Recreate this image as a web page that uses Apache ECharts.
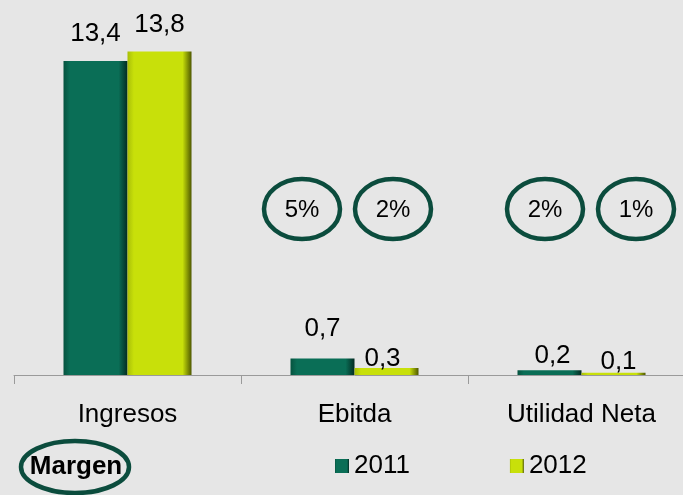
<!DOCTYPE html>
<html style="height: 100%">
<head>
    <meta charset="utf-8">
</head>
<body style="height: 100%; margin: 0; background: #e6e6e6; overflow: hidden">
    <!-- the plot runs past the right edge in the original, so the canvas is a bit wider than the window -->
    <div id="container" style="width: 695px; height: 495px"></div>
    <script src="https://cdn.jsdelivr.net/npm/echarts@6/dist/echarts.min.js"></script>
    <script type="text/javascript">
        var categories = ['Ingresos', 'Ebitda', 'Utilidad Neta'];
        var years = ['2011', '2012'];
        var values2011 = [13.4, 0.7, 0.2];
        var values2012 = [13.8, 0.3, 0.1];
        // margen (%) per year, only for Ebitda and Utilidad Neta
        var margin2011 = ['', '5%', '2%'];
        var margin2012 = ['', '2%', '1%'];
        // small nudges so the labels sit like in the original
        var labelNudge2011 = [[0, 0], [0, -3], [3, 13]];
        var labelNudge2012 = [[0, 0], [-4, 18], [5, 16]];

        var font = 'Liberation Sans';
        var green = '#0b4c3d';

        function grad(c0, c1, c2) {
            return new echarts.graphic.LinearGradient(0, 0, 1, 0, [
                { offset: 0, color: c0 },
                { offset: 0.1, color: c1 },
                { offset: 0.86, color: c1 },
                { offset: 1, color: c2 }
            ]);
        }

        function makeData(vals, nudges) {
            return vals.map(function (v, i) {
                return { value: v, label: { offset: nudges[i] } };
            });
        }

        function comma(p) {
            return String(p.value).replace('.', ',');
        }

        var dom = document.getElementById('container');
        var myChart = echarts.init(dom);

        var ellipses = [];
        var centers = [[302, 209], [393, 209], [545, 209], [636, 209]];
        var texts = [margin2011[1], margin2012[1], margin2011[2], margin2012[2]];
        centers.forEach(function (c, i) {
            ellipses.push({
                type: 'ellipse',
                shape: { cx: c[0], cy: c[1], rx: 38, ry: 30 },
                style: { fill: 'none', stroke: green, lineWidth: 4.5 }
            });
            ellipses.push({
                type: 'text',
                x: c[0], y: c[1] + 1,
                style: {
                    text: texts[i], fill: '#000', font: '24px "' + font + '"',
                    textAlign: 'center', textVerticalAlign: 'middle'
                }
            });
        });
        ellipses.push({
            type: 'ellipse',
            shape: { cx: 75, cy: 467, rx: 54, ry: 26 },
            style: { fill: 'none', stroke: green, lineWidth: 4.5 }
        });
        ellipses.push({
            type: 'text',
            x: 76, y: 467,
            style: {
                text: 'Margen', fill: '#000', font: 'bold 26px "' + font + '"',
                textAlign: 'center', textVerticalAlign: 'middle'
            }
        });

        var option = {
            backgroundColor: '#e6e6e6',
            animation: false,
            textStyle: { fontFamily: font },
            grid: { left: 14, right: 0, top: 0, bottom: 120 },
            legend: {
                left: 335,
                top: 453,
                padding: 0,
                itemWidth: 14,
                itemHeight: 14,
                itemGap: 100,
                icon: 'rect',
                textStyle: { fontSize: 26, color: '#000', fontFamily: font },
                data: years
            },
            xAxis: {
                type: 'category',
                data: categories,
                axisLine: { lineStyle: { color: '#9a9a9a', width: 1 } },
                axisTick: { show: true, length: 9, lineStyle: { color: '#9a9a9a' } },
                axisLabel: { fontSize: 26, color: '#000', margin: 27, fontFamily: font }
            },
            yAxis: {
                type: 'value',
                min: 0,
                max: 16,
                show: false,
                splitLine: { show: false }
            },
            series: [
                {
                    name: years[0],
                    type: 'bar',
                    barWidth: 64,
                    barGap: '0%',
                    data: makeData(values2011, labelNudge2011),
                    itemStyle: { color: grad('#06533f', '#0a6e56', '#032b22') },
                    label: {
                        show: true, position: 'top', distance: 14,
                        fontSize: 26, color: '#000', fontFamily: font, formatter: comma
                    }
                },
                {
                    name: years[1],
                    type: 'bar',
                    barWidth: 64,
                    data: makeData(values2012, labelNudge2012),
                    itemStyle: { color: grad('#a9bf08', '#c8e00a', '#4f5800') },
                    label: {
                        show: true, position: 'top', distance: 14,
                        fontSize: 26, color: '#000', fontFamily: font, formatter: comma
                    }
                }
            ],
            graphic: ellipses
        };

        myChart.setOption(option, true);
    </script>
</body>
</html>
